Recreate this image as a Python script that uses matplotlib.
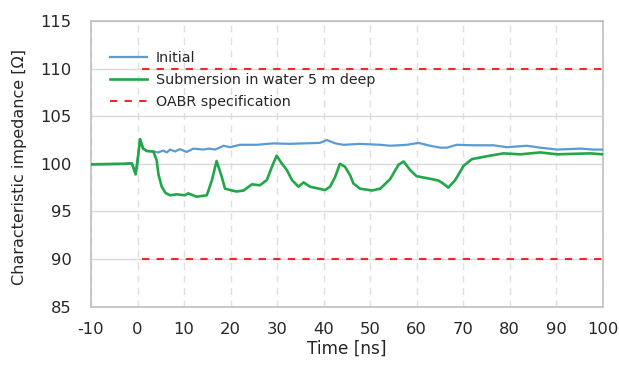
import matplotlib
matplotlib.use("Agg")
import matplotlib.pyplot as plt

plt.rcParams["axes.unicode_minus"] = False

# Time points [ns] and impedance [ohm]
green_t = [-10, -6, -3, -1.2, -0.4, 0.0, 0.54, 1.2, 2.0, 3.4, 4.1, 4.5, 5.2, 6.0, 7.0, 8.4, 10.2, 10.9, 12.7, 14.9,
           16.0, 17.0, 18.1, 18.8, 20.3, 21.3, 22.8, 24.6, 26.3, 27.8, 28.9, 29.9, 31.0, 32.1, 33.2, 34.6,
           35.7, 37.1, 40.3, 41.4, 42.5, 43.5, 44.6, 45.7, 46.4, 47.8, 50.4, 52.2, 54.3, 56.1, 57.2, 58.6,
           60.0, 62.2, 64.7, 65.8, 66.8, 68.3, 70.1, 71.9, 75.1, 78.7, 82.3, 86.6, 90.2, 93.7, 97.3, 100]
green_z = [99.95, 99.98, 100.0, 100.05, 98.9, 100.3, 102.6, 101.6, 101.35, 101.3, 100.4, 98.9, 97.6, 96.95, 96.7, 96.8, 96.7, 96.9, 96.55, 96.7,
           98.3, 100.3, 98.65, 97.4, 97.2, 97.1, 97.2, 97.85, 97.75, 98.3, 99.7, 100.85, 100.05, 99.35, 98.3, 97.6,
           98.05, 97.6, 97.25, 97.6, 98.65, 100.0, 99.7, 98.8, 97.95, 97.4, 97.2, 97.4, 98.4, 99.9, 100.25, 99.35,
           98.7, 98.5, 98.25, 97.9, 97.5, 98.3, 99.8, 100.5, 100.8, 101.1, 101.0, 101.2, 101.0, 101.05, 101.1, 101.0]

blue_t = [-10, -6, -3, -1.2, -0.4, 0.0, 0.54, 1.2, 2.0, 3.4, 4.5, 5.5, 6.3, 7.0, 8.1, 9.1, 10.6, 12.0, 14.2, 15.3, 16.7,
          18.5, 19.9, 22.0, 25.6, 29.2, 32.8, 35.7, 39.2, 40.7, 42.5, 44.3, 47.8, 52.2, 54.3, 57.9, 60.4,
          62.9, 65.1, 66.5, 68.6, 72.2, 76.5, 79.4, 83.7, 86.6, 90.2, 95.2, 98.0, 100]
blue_z = [99.95, 99.98, 100.0, 100.05, 98.9, 100.3, 102.6, 101.6, 101.35, 101.3, 101.2, 101.4, 101.2, 101.5, 101.3, 101.55, 101.25, 101.6, 101.5, 101.6, 101.5,
          101.9, 101.75, 102.0, 102.0, 102.15, 102.1, 102.15, 102.2, 102.5, 102.15, 102.0, 102.1, 102.0, 101.9, 102.0, 102.2,
          101.9, 101.7, 101.7, 102.0, 101.95, 101.95, 101.75, 101.9, 101.7, 101.5, 101.6, 101.5, 101.5]

spec_t = [0.9, 100]
spec_upper = [110, 110]
spec_lower = [90, 90]

x_ticks = [-10, 0, 10, 20, 30, 40, 50, 60, 70, 80, 90, 100]
y_ticks = [85, 90, 95, 100, 105, 110, 115]

labels = ["Initial", "Submersion in water 5 m deep", "OABR specification"]

text_color = "#262626"
fig = plt.figure(figsize=(6.19, 3.69), dpi=100)
ax = fig.add_axes([91/619, 1 - 306.7/369, (602.7-91)/619, (306.7-21)/369])

ax.plot(blue_t, blue_z, color="#5B9BD5", lw=1.6, label=labels[0], zorder=3)
ax.plot(green_t, green_z, color="#22A748", lw=1.9, label=labels[1], zorder=4)
ax.plot(spec_t, spec_upper, color="#F02828", lw=1.5, dashes=(3.5, 3.5), label=labels[2], zorder=2)
ax.plot(spec_t, spec_lower, color="#F02828", lw=1.5, dashes=(3.5, 3.5), zorder=2)

ax.set_xlim(-10, 100)
ax.set_ylim(85, 115)
ax.set_xticks(x_ticks)
ax.set_yticks(y_ticks)
ax.tick_params(axis="x", length=0, labelsize=11.8, labelcolor=text_color, pad=11)
ax.tick_params(axis="y", length=0, labelsize=11.8, labelcolor=text_color, pad=14)
ax.grid(axis="y", color="#D9D9D9", lw=1.0, zorder=0)
ax.grid(axis="x", color="#E0E0E0", lw=1.0, ls=(0, (5, 4)), zorder=0)
for s in ax.spines.values():
    s.set_color("#BFBFBF")
    s.set_linewidth(1.2)

ax.set_xlabel("Time [ns]", fontsize=12.2, color=text_color)
ax.set_ylabel("Characteristic impedance [Ω]", fontsize=11.5, color=text_color)
ax.xaxis.set_label_coords(0.5, (306.7 - 340) / 285.7)
ax.yaxis.set_label_coords((27 - 91) / 511.7, (306.7 - 167) / 285.7)

leg = ax.legend(loc="upper left", bbox_to_anchor=(0.026, 0.915), frameon=False, fontsize=10.3,
                handlelength=2.6, handletextpad=0.6, labelspacing=0.56, borderaxespad=0)
for t in leg.get_texts():
    t.set_color(text_color)

fig.savefig("out.png", dpi=100)
